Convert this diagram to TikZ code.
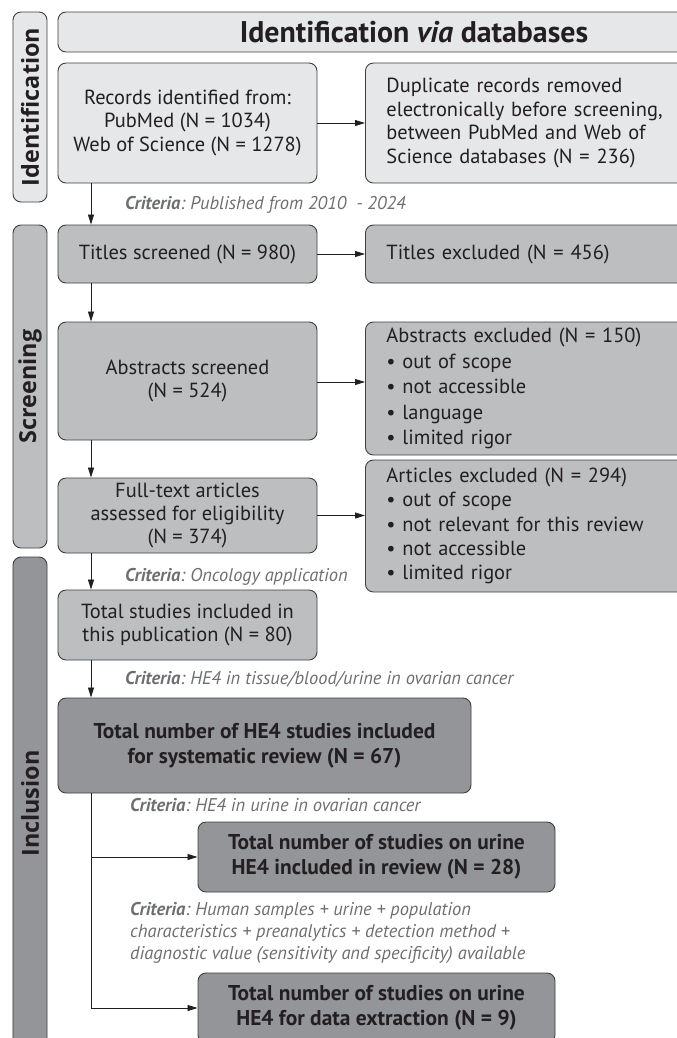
\documentclass[tikz,border=0pt]{standalone}
\usepackage{fontspec}
\setmainfont{PT Sans}
\newfontfamily\barfont{Open Sans}
\usetikzlibrary{arrows.meta}

\definecolor{boxlight}{HTML}{E6E7E8}
\definecolor{boxmid}{HTML}{BCBEC0}
\definecolor{boxdark}{HTML}{939598}
\definecolor{edge}{HTML}{3F3F40}
\definecolor{critgray}{HTML}{6D6E71}
\definecolor{ink}{HTML}{231F20}

\newcommand{\critlabel}{\textbf{Criteria}:\ }

\begin{document}
\begin{tikzpicture}[x=1bp, y=-1bp,
	font=\fontsize{20.5}{23.5}\selectfont, text=ink,
	box/.style={draw=edge, line width=0.9pt, rounded corners=8bp, inner sep=0pt, align=center},
	lightbox/.style={box, fill=boxlight},
	midbox/.style={box, fill=boxmid},
	darkbox/.style={box, fill=boxdark, font=\fontsize{21.5}{25.5}\selectfont\bfseries},
	exclbox/.style={midbox, anchor=west, align=left, text width=330bp, inner xsep=21bp},
	sidebar/.style={box, rotate=90, minimum height=34bp, font=\barfont\fontsize{23.5}{23.5}\selectfont\bfseries},
	crit/.style={anchor=west, align=left, inner sep=0pt, text=critgray, font=\fontsize{18.5}{22.5}\selectfont\itshape},
	flow/.style={draw=ink, line width=0.8pt, -{Triangle[length=10bp,width=6bp]}}]

	\useasboundingbox (0,0) rectangle (677,1038);
	\clip (0,0) rectangle (677,1038);

	% side bars
	\node[sidebar, fill=boxlight, minimum width=190bp] (identbar) at (30,107) {Identification};
	\node[sidebar, fill=boxmid, minimum width=323bp] (screenbar) at (30,386.5) {Screening};
	\node[sidebar, fill=boxdark, minimum width=493bp] (inclbar) at (30,803.5) {Inclusion};

	% identification
	\node[lightbox, minimum width=712bp, minimum height=40bp, font=\fontsize{30}{30}\selectfont\bfseries] (header) at (414,32) {Identification \textit{via} databases};
	\node[lightbox, minimum width=259bp, minimum height=120bp] (records) at (187.5,123) {Records identified from:\\PubMed (N = 1034)\\Web of Science (N = 1278)};
	\node[exclbox, fill=boxlight, minimum height=120bp] (dupl) at (365,123) {Duplicate records removed\\electronically before screening,\\between PubMed and Web of\\Science databases (N = 236)};

	% screening
	\node[midbox, minimum width=259bp, minimum height=58bp] (titles) at (187.5,254) {Titles screened (N = 980)};
	\node[exclbox, minimum height=58bp] (titlesexcl) at (365,254) {Titles excluded (N = 456)};
	\node[midbox, minimum width=259bp, minimum height=118bp] (abstracts) at (187.5,381) {Abstracts screened\\(N = 524)};
	\node[exclbox, minimum height=133bp, font=\fontsize{20.5}{25.5}\selectfont] (absexcl) at (365,388.5) {Abstracts excluded (N = 150)\\\textbullet\ out of scope\\\textbullet\ not accessible\\\textbullet\ language\\\textbullet\ limited rigor};
	\node[midbox, minimum width=259bp, minimum height=75bp] (fulltext) at (187.5,515.5) {Full-text articles\\assessed for eligibility\\(N = 374)};
	\node[exclbox, minimum height=132bp, font=\fontsize{20.5}{24.5}\selectfont] (artexcl) at (365,526) {Articles excluded (N = 294)\\\textbullet\ out of scope\\\textbullet\ not relevant for this review\\\textbullet\ not accessible\\\textbullet\ limited rigor};

	% inclusion
	\node[midbox, minimum width=259bp, minimum height=70bp] (total) at (187.5,625) {Total studies included in\\this publication (N = 80)};
	\node[darkbox, minimum width=413bp, minimum height=95bp] (he4) at (264.5,745.5) {Total number of HE4 studies included\\for systematic review (N = 67)};
	\node[darkbox, minimum width=357bp, minimum height=70bp] (urine) at (376.5,857) {Total number of studies on urine\\HE4 included in review (N = 28)};
	\node[darkbox, minimum width=357bp, minimum height=70bp] (extract) at (376.5,1008) {Total number of studies on urine\\HE4 for data extraction (N = 9)};

	% criteria
	\node[crit] (crit1) at (125,205) {\critlabel Published from 2010 \ - 2024};
	\node[crit] (crit2) at (125,577) {\critlabel Oncology application};
	\node[crit] (crit3) at (125,679) {\critlabel HE4 in tissue/blood/urine in ovarian cancer};
	\node[crit] (crit4) at (130,805) {\critlabel HE4 in urine in ovarian cancer};
	\node[crit] (crit5) at (130,933) {\critlabel Human samples + urine + population\\characteristics + preanalytics + detection method +\\diagnostic value (sensitivity and specificity) available};

	% connectors
	\coordinate (spine) at (91,0);
	\draw[flow] (records) -- (dupl);
	\draw[flow] (titles) -- (titlesexcl);
	\draw[flow] (abstracts.east |- 0,382) -- (absexcl.west |- 0,382);
	\draw[flow] (fulltext) -- (artexcl.west |- fulltext);
	\draw[flow] (records.south -| spine) -- (titles.north -| spine);
	\draw[flow] (titles.south -| spine) -- (abstracts.north -| spine);
	\draw[flow] (abstracts.south -| spine) -- (fulltext.north -| spine);
	\draw[flow] (fulltext.south -| spine) -- (total.north -| spine);
	\draw[flow] (total.south -| spine) -- (he4.north -| spine);
	\draw[flow] (he4.south -| spine) |- (extract.west);
	\draw[flow] (spine |- urine.west) -- (urine.west);

\end{tikzpicture}
\end{document}
